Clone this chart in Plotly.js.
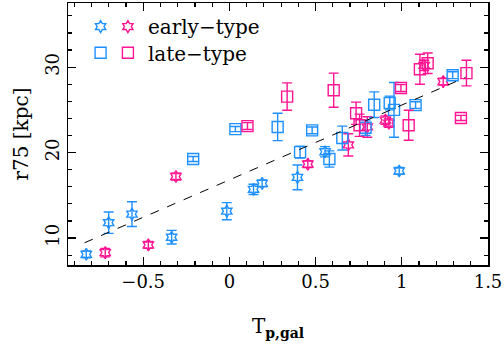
<!DOCTYPE html>
<html lang="en">
    <head>
        <meta charset="UTF-8">
        <title>r75 vs T_p,gal</title>
        <script src="https://cdn.plot.ly/plotly-3.0.1.min.js"></script>
        <style>body { margin: 0; }</style>
    </head>
    <body>

        <div id="plot" style="width:504px;height:354px;"></div>

        <script>
        // early-type, blue
        const earlyBlueX = [-0.83, -0.70, -0.565, -0.335, -0.015, 0.14, 0.19, 0.395, 0.555, 0.985];
        const earlyBlueY = [8.1, 11.8, 12.8, 10.1, 13.15, 15.7, 16.4, 17.1, 20.1, 17.85];
        const earlyBlueE = [0.4, 1.25, 1.45, 0.8, 1.0, 0.6, 0.4, 1.45, 0.6, 0.4];

        // early-type, pink
        const earlyPinkX = [-0.72, -0.47, -0.31, 0.455, 0.69, 0.80, 0.905, 0.925, 1.24, 1.13];
        const earlyPinkY = [8.3, 9.2, 17.2, 18.65, 20.9, 23.0, 23.8, 23.45, 28.3, 30.2];
        const earlyPinkE = [0.5, 0.4, 0.4, 0.4, 1.3, 1.2, 0.5, 0.5, 0.4, 0.6];

        // late-type, blue
        const lateBlueX = [-0.21, 0.035, 0.28, 0.41, 0.48, 0.58, 0.655, 0.79, 0.84, 0.93, 0.955, 1.08, 1.295];
        const lateBlueY = [19.25, 22.75, 23.0, 20.05, 22.6, 19.25, 21.7, 22.9, 25.6, 25.8, 25.0, 25.55, 29.05];
        const lateBlueE = [0.3, 0.3, 1.6, 0.7, 0.4, 0.95, 1.4, 0.9, 1.5, 0.8, 3.2, 0.4, 0.4];

        // late-type, pink
        const latePinkX = [0.105, 0.335, 0.605, 0.735, 0.755, 0.995, 1.04, 1.105, 1.15, 1.375, 1.343];
        const latePinkY = [23.1, 26.55, 27.3, 24.6, 23.2, 27.55, 23.2, 29.75, 30.45, 29.3, 24.05];
        const latePinkE = [0.4, 1.6, 2.0, 1.3, 1.3, 0.4, 1.75, 1.75, 1.2, 1.5, 0.3];

        // dashed fit
        const fitX = [-0.84, 1.37];
        const fitY = [9.45, 28.8];

        const blue = '#1e90ff';
        const pink = '#ff1493';
        const serif = 'DejaVu Serif, serif';

        function points(x, y, e, color, symbol, size, name, legend) {
            return {
                x: x, y: y, type: 'scatter', mode: 'markers', name: name,
                legend: legend,
                marker: { symbol: symbol, size: size, color: color, line: { color: color, width: 1.4 } },
                error_y: { type: 'data', array: e, visible: true, color: color, thickness: 1.4, width: 5 }
            };
        }

        // one legend per symbol so the two colours can sit side by side
        const traces = [
            points(earlyBlueX, earlyBlueY, earlyBlueE, blue, 'hexagram-open', 9, '', 'legend3'),
            points(earlyPinkX, earlyPinkY, earlyPinkE, pink, 'hexagram-open', 9, 'early\u2212type', 'legend'),
            points(lateBlueX, lateBlueY, lateBlueE, blue, 'square-open', 11, '', 'legend4'),
            points(latePinkX, latePinkY, latePinkE, pink, 'square-open', 11, 'late\u2212type', 'legend2'),
            {
                x: fitX, y: fitY, type: 'scatter', mode: 'lines', showlegend: false,
                line: { color: 'black', width: 1, dash: '9px,9px' }
            }
        ];

        const axisBase = {
            showgrid: false, zeroline: false, showline: true, linecolor: 'black', linewidth: 1.5,
            mirror: 'allticks', ticks: 'inside', ticklen: 8, tickwidth: 1.2, tickcolor: 'black',
            tickfont: { family: serif, size: 18, color: 'black' }
        };

        const legendBase = {
            xanchor: 'left', yanchor: 'middle',
            bgcolor: 'rgba(0,0,0,0)', font: { family: serif, size: 20, color: 'black' },
            itemclick: false
        };

        const layout = {
            width: 504, height: 354,
            margin: { l: 68, r: 16, t: 3, b: 89 },
            paper_bgcolor: 'white', plot_bgcolor: 'white',
            xaxis: Object.assign({}, axisBase, {
                range: [-0.936, 1.5], dtick: 0.5, tick0: 0,
                minor: { dtick: 0.1, ticks: 'inside', ticklen: 4, tickcolor: 'black' },
                title: { text: 'T<sub><b>p,gal</b></sub>', font: { family: serif, size: 20, color: 'black' }, standoff: 28 }
            }),
            yaxis: Object.assign({}, axisBase, {
                range: [6.85, 37.5], dtick: 10, tick0: 0, tickangle: -90,
                minor: { dtick: 2, ticks: 'inside', ticklen: 4, tickcolor: 'black' },
                title: { text: 'r75 [kpc]', font: { family: serif, size: 20, color: 'black' }, standoff: 8 }
            }),
            legend: Object.assign({}, legendBase, { x: 0.095, y: 0.91 }),
            legend2: Object.assign({}, legendBase, { x: 0.095, y: 0.81 }),
            legend3: Object.assign({}, legendBase, { x: 0.03, y: 0.91 }),
            legend4: Object.assign({}, legendBase, { x: 0.03, y: 0.81 })
        };

        Plotly.newPlot('plot', traces, layout, { displayModeBar: false, staticPlot: true });
        </script>

    </body>
</html>
